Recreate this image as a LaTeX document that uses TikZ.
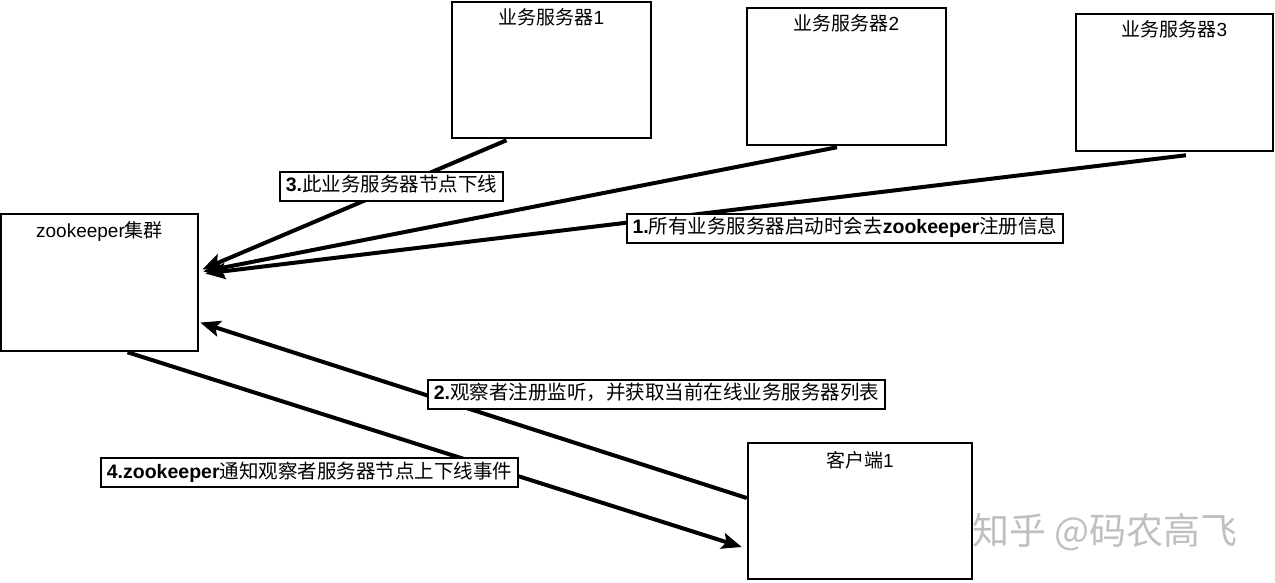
\documentclass[tikz,border=0pt]{standalone}
\usepackage{fontspec}
\setmainfont{Liberation Sans}
\newfontfamily\cjk{Noto Sans CJK SC}
\newcommand\zh{\cjk\mdseries}
\usetikzlibrary{arrows.meta}
\tikzset{
  box/.style={draw=black, line width=2.5pt, fill=white, inner sep=0pt},
  title/.style={anchor=north, inner sep=0pt, font=\fontsize{19}{22}\selectfont},
  conn/.style={line width=4pt, draw=black},
  tip/.style={-{Stealth[length=20pt,width=16pt,inset=4pt]}},
  lbl/.style={draw=black, line width=2pt, fill=white, inner xsep=6pt, inner ysep=5pt,
    font=\bfseries\fontsize{19.5}{22}\selectfont, text height=15pt, text depth=4pt},
  wm/.style={text=black!25, font=\zh\fontsize{37}{40}\selectfont, inner sep=0pt}
}
\begin{document}
\begin{tikzpicture}[x=1pt,y=-1pt]
\useasboundingbox (0,0) rectangle (1275,582);
% boxes
\node[box, minimum width=197pt, minimum height=137pt,
  label={[title, yshift=-9pt]north:zookeeper{\zh 集群}}] (zk) at (99.5,282.5) {};
\node[box, minimum width=199pt, minimum height=136pt,
  label={[title, yshift=-8pt]north:{\zh 业务服务器}1}] (s1) at (551.5,70) {};
\node[box, minimum width=199pt, minimum height=137pt,
  label={[title, yshift=-8pt]north:{\zh 业务服务器}2}] (s2) at (846.5,76.5) {};
\node[box, minimum width=197pt, minimum height=137pt,
  label={[title, yshift=-8pt]north:{\zh 业务服务器}3}] (s3) at (1174.5,82.5) {};
\node[box, minimum width=224pt, minimum height=136pt,
  label={[title, yshift=-9pt]north:{\zh 客户端}1}] (c1) at (860,511) {};
% connectors
\draw[conn, tip] ([xshift=-45pt,yshift=-1pt]s1.south) -- ([xshift=3pt,yshift=13pt]zk.east);
\draw[conn, tip] ([xshift=-9.5pt,yshift=-1pt]s2.south) -- ([xshift=4pt,yshift=11pt]zk.east);
\draw[conn, tip] ([xshift=11.5pt,yshift=-3pt]s3.south) -- ([xshift=6pt,yshift=9pt]zk.east);
\draw[conn, tip] ([yshift=13pt]c1.west) -- ([xshift=1pt,yshift=-40pt]zk.east);
\draw[conn, tip] ([xshift=28pt]zk.south) -- ([xshift=-5pt,yshift=-36pt]c1.west);
% labels
\node[lbl] (l3) at (391.5,186) {3.{\zh 此业务服务器节点下线}};
\node[lbl] (l1) at (845,228) {1.{\zh 所有业务服务器启动时会去}zookeeper{\zh 注册信息}};
\node[lbl] (l2) at (656.5,394) {2.{\zh 观察者注册监听，并获取当前在线业务服务器列表}};
\node[lbl] (l4) at (309.5,472.5) {4.zookeeper{\zh 通知观察者服务器节点上下线事件}};
% watermark
\node[wm] (wm) at (1105,532) {知乎 @码农高飞};
\end{tikzpicture}
\end{document}
